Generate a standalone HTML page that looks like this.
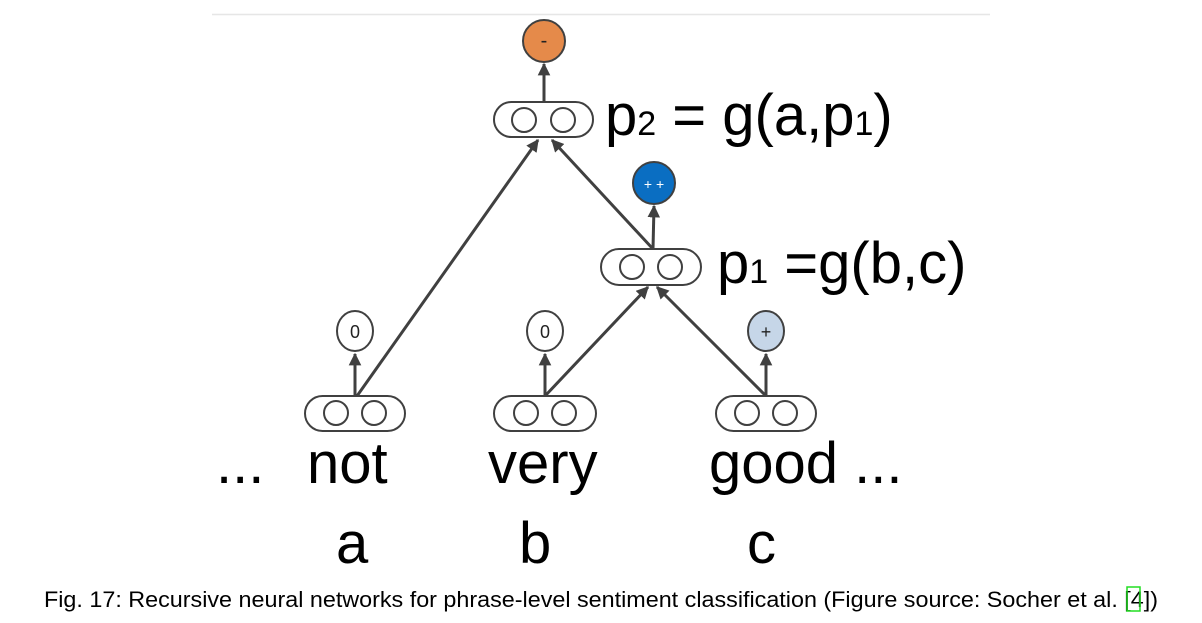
<!DOCTYPE html>
<html><head><meta charset="utf-8"><style>
html,body{margin:0;padding:0;background:#fff;}
svg{display:block;}
text{font-family:"Liberation Sans",sans-serif;}
</style></head><body>
<svg width="1202" height="623" viewBox="0 0 1202 623" xmlns="http://www.w3.org/2000/svg">
<defs>
<marker id="ah" viewBox="0 0 10 10" refX="9" refY="5" markerWidth="4.2" markerHeight="4.2" orient="auto" markerUnits="strokeWidth">
<path d="M0,0 L10,5 L0,10 z" fill="#404040"/>
</marker>
</defs>
<line x1="212" y1="14.5" x2="990" y2="14.5" stroke="#e6e6e6" stroke-width="1.5"/>
<g stroke="#404040" stroke-width="3" fill="none">
<line x1="544" y1="102" x2="544" y2="64" marker-end="url(#ah)"/>
<line x1="653" y1="249" x2="654" y2="206" marker-end="url(#ah)"/>
<line x1="653" y1="249" x2="552" y2="140" marker-end="url(#ah)"/>
<line x1="357" y1="396" x2="538" y2="140" marker-end="url(#ah)"/>
<line x1="545" y1="396" x2="648" y2="287" marker-end="url(#ah)"/>
<line x1="766" y1="396" x2="657" y2="287" marker-end="url(#ah)"/>
<line x1="355" y1="396" x2="355" y2="354" marker-end="url(#ah)"/>
<line x1="545" y1="396" x2="545" y2="354" marker-end="url(#ah)"/>
<line x1="766" y1="396" x2="766" y2="354" marker-end="url(#ah)"/>
</g>
<g stroke="#404040" stroke-width="2" fill="#fff">
<rect x="494" y="102" width="99" height="35" rx="17.5"/>
<circle cx="524" cy="120" r="12"/><circle cx="563" cy="120" r="12"/>
<rect x="601" y="249" width="100" height="36" rx="18"/>
<circle cx="632" cy="267" r="12"/><circle cx="670" cy="267" r="12"/>
<rect x="305" y="396" width="100" height="35" rx="17.5"/>
<circle cx="336" cy="413" r="12"/><circle cx="374" cy="413" r="12"/>
<rect x="494" y="396" width="102" height="35" rx="17.5"/>
<circle cx="526" cy="413" r="12"/><circle cx="564" cy="413" r="12"/>
<rect x="716" y="396" width="100" height="35" rx="17.5"/>
<circle cx="747" cy="413" r="12"/><circle cx="785" cy="413" r="12"/>
<ellipse cx="355" cy="331" rx="18" ry="20"/>
<ellipse cx="545" cy="331" rx="18" ry="20"/>
<ellipse cx="766" cy="331" rx="18" ry="20" fill="#c6d6e8"/>
<circle cx="544" cy="41" r="21" fill="#e58a4a"/>
<circle cx="654" cy="183" r="21" fill="#0a6ec2"/>
</g>
<g font-size="18" text-anchor="middle">
<text x="355" y="338" fill="#222">0</text>
<text x="545" y="338" fill="#222">0</text>
<text x="766" y="338" fill="#222">+</text>
<text x="544" y="47" fill="#222" font-size="20">-</text>
<text x="654" y="189" fill="#fff" font-size="14">+   +</text>
</g>
<text x="605" y="135" font-size="58" fill="#000">p<tspan font-size="34" dy="0">2</tspan> = g(a,p<tspan font-size="34">1</tspan>)</text>
<text x="717" y="283" font-size="58" fill="#000">p<tspan font-size="34">1</tspan> =g(b,c)</text>
<g font-size="58" fill="#000">
<text x="216" y="483">...</text>
<text x="307" y="483">not</text>
<text x="488" y="483">very</text>
<text x="709" y="483">good ...</text>
<text x="336" y="563">a</text>
<text x="519" y="563">b</text>
<text x="747" y="563">c</text>
</g>
<text x="44" y="607" font-family="Liberation Serif, serif" font-size="22" textLength="1114" lengthAdjust="spacingAndGlyphs" fill="#000">Fig. 17: Recursive neural networks for phrase-level sentiment classification (Figure source: Socher et al. [4])</text>
<rect x="1127" y="587" width="13" height="24" fill="none" stroke="#22dd22" stroke-width="1.5"/>
</svg>
</body></html>
